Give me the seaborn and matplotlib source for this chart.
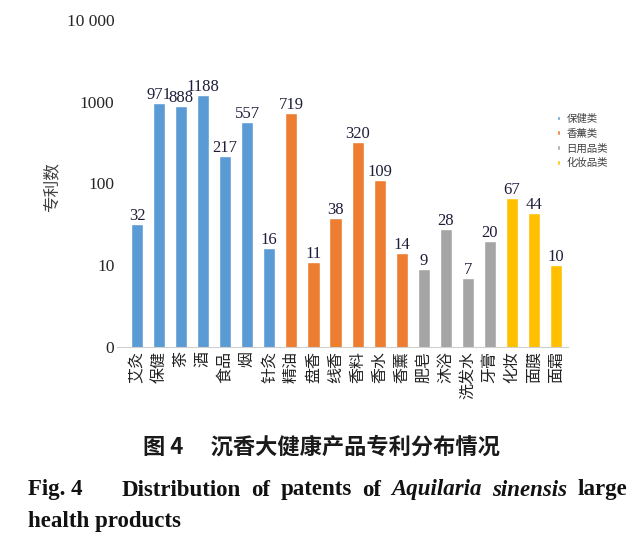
import matplotlib
matplotlib.use("Agg")
import matplotlib.pyplot as plt
import seaborn as sns
import pandas as pd

categories = ["艾灸", "保健", "茶", "酒", "食品", "烟", "针灸",
              "精油", "盘香", "线香", "香料", "香水", "香薰",
              "肥皂", "沐浴", "洗发水", "牙膏",
              "化妆", "面膜", "面霜"]
counts = [32, 971, 888, 1188, 217, 557, 16,
          719, 11, 38, 320, 109, 14,
          9, 28, 7, 20,
          67, 44, 10]
groups = ["保健类"] * 7 + ["香薰类"] * 6 + ["日用品类"] * 4 + ["化妆品类"] * 3
group_names = ["保健类", "香薰类", "日用品类", "化妆品类"]
group_colors = ["#5B9BD5", "#ED7D31", "#A5A5A5", "#FFC000"]
ytick_values = [1, 10, 100, 1000, 10000]
ytick_labels = ["0", "10", "100", "1000", "10 000"]

df = pd.DataFrame({"category": categories, "count": counts, "group": groups})

sns.set_style("white")
plt.rcParams["font.family"] = ["Noto Sans CJK SC", "DejaVu Sans"]

W, H = 640, 549
fig = plt.figure(figsize=(6.4, 5.49), dpi=100)
ax = fig.add_axes([0.183, 0.368, 0.705, 0.596])

sns.barplot(data=df, x="category", y="count", hue="group", hue_order=group_names,
            palette=group_colors, dodge=False, width=0.55, saturation=1, ax=ax)
ax.set_yscale("log")
ax.set_ylim(1, 10000)
ax.set_xlim(-0.9, 19.55)
ax.set_yticks(ytick_values)
ax.set_yticklabels(ytick_labels, fontfamily="Liberation Serif", fontsize=12.5)
ax.yaxis.set_minor_locator(matplotlib.ticker.NullLocator())
ax.tick_params(axis="y", length=0, pad=2)
ax.tick_params(axis="x", length=0, pad=3)
ax.set_xticks(range(len(categories)))
ax.set_xticklabels(categories, rotation=90, fontsize=11.5, color="#222222", va="top")
ax.set_xlabel("")
ax.set_ylabel("专利数", fontsize=12, color="#404040")
ax.yaxis.set_label_coords(-0.125, 0.49)
for side in ["left", "right", "top"]:
    ax.spines[side].set_visible(False)
ax.spines["bottom"].set_color("#D0D0D0")

for cont in ax.containers:
    ax.bar_label(cont, fmt="%d", fontfamily="Liberation Serif", fontsize=12,
                 color="#1E1E3A", padding=0)

ax.legend(loc="upper left", bbox_to_anchor=(0.855, 0.81), bbox_transform=fig.transFigure,
          frameon=False, fontsize=7.5, handlelength=0.35, handleheight=0.35,
          handletextpad=0.6, labelspacing=0.45, labelcolor="#404040")

fig.text(321 / W, 1 - 447 / H, "图 4　 沉香大健康产品专利分布情况", ha="center", va="center",
         fontsize=16, fontweight="bold", color="#1a1a1a")

# caption line 1 is justified between x=28 and x=627
serif = "Liberation Serif"
y1 = 1 - 490 / H
fig.text(28 / W, y1, "Fig. 4", ha="left", va="center", fontsize=16.5,
         fontfamily=serif, fontweight="bold", color="#111111")
words = [("Distribution", "normal"), ("of", "normal"), ("patents", "normal"), ("of", "normal"),
         ("Aquilaria", "italic"), ("sinensis", "italic"), ("large", "normal")]
texts = [fig.text(0, y1, w, ha="left", va="center", fontsize=16.5, fontfamily=serif,
                  fontweight="bold", fontstyle=s, color="#111111") for w, s in words]
fig.canvas.draw()
renderer = fig.canvas.get_renderer()
widths = [t.get_window_extent(renderer).width for t in texts]
start, end = 122, 627
gap = (end - start - sum(widths)) / (len(texts) - 1)
x = start
for t, w in zip(texts, widths):
    t.set_x(x / W)
    x += w + gap
fig.text(28 / W, 1 - 522 / H, "health products", ha="left", va="center", fontsize=16.5,
         fontfamily=serif, fontweight="bold", color="#111111")

fig.savefig("out.png", dpi=100)
plt.close(fig)
